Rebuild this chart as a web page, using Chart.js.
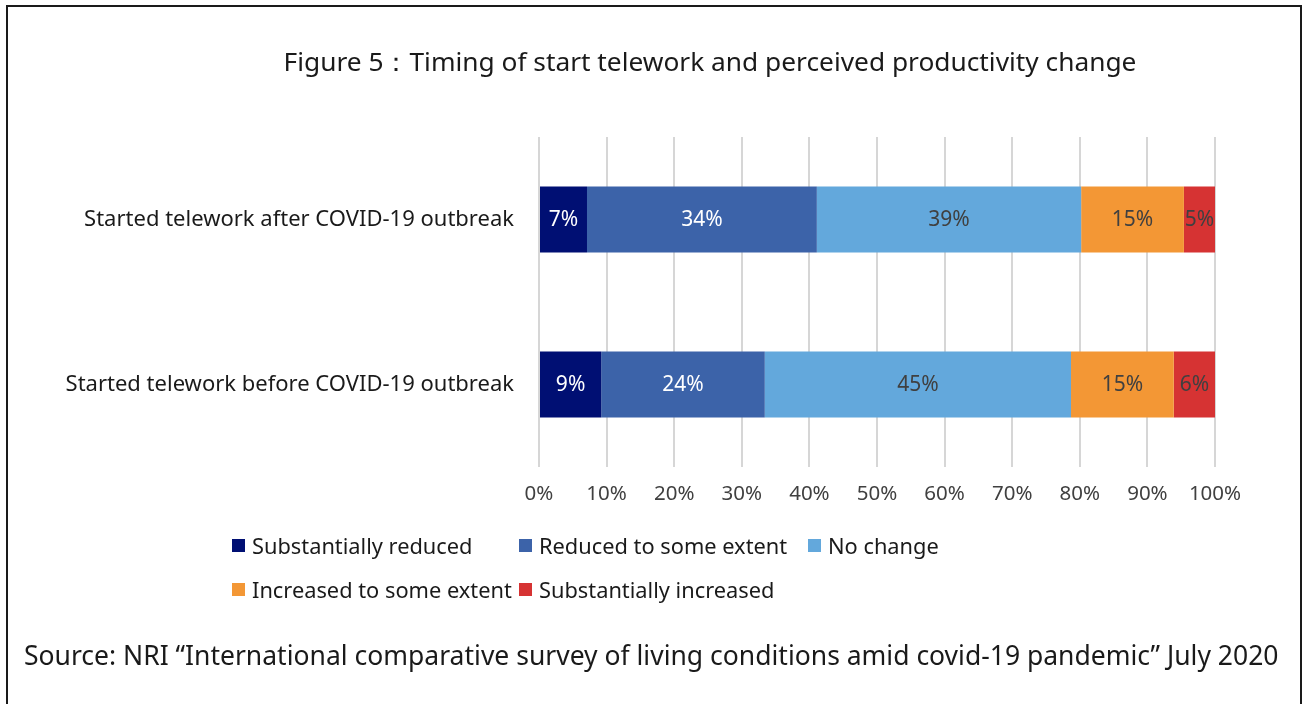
<!DOCTYPE html>
<html>
<head>
<meta charset="utf-8">
<script src="https://cdn.jsdelivr.net/npm/chart.js@4/dist/chart.umd.min.js"></script>
<style>
  html, body { margin: 0; padding: 0; background: #fff; }
  body { width: 1308px; height: 704px; position: relative; overflow: hidden; font-family: "Noto Sans", "Open Sans", sans-serif; }
  #frame { position: absolute; left: 6px; top: 5px; width: 1296px; height: 740px; border: 2px solid #1a1a1a; box-sizing: border-box; }
  #title { position: absolute; left: 0; width: 1420px; top: 43px; text-align: center; font-size: 26.3px; color: #1a1a1a; white-space: nowrap; }
  #wrap { position: absolute; left: 0; top: 0; width: 1308px; height: 704px; }
  #legend { position: absolute; left: 232px; top: 530px; display: grid; grid-template-columns: 287px 289px 200px; row-gap: 14px; font-size: 21.8px; color: #1a1a1a; }
  #legend .item { display: flex; align-items: center; white-space: nowrap; height: 30px; }
  #legend .sw { width: 13px; height: 13px; margin-right: 7px; flex: none; }
  #source { position: absolute; left: 24px; top: 637px; font-size: 26.5px; color: #1a1a1a; white-space: nowrap; }
</style>
</head>
<body>
<div id="wrap"><canvas id="c" width="1308" height="704"></canvas></div>
<div id="frame"></div>
<div id="title">Figure 5：Timing of start telework and perceived productivity change</div>
<div id="legend"></div>
<div id="source">Source: NRI “International comparative survey of living conditions amid covid-19 pandemic” July 2020</div>
<script>
const categories = ["Started telework after COVID-19 outbreak", "Started telework before COVID-19 outbreak"];
const seriesNames = ["Substantially reduced", "Reduced to some extent", "No change", "Increased to some extent", "Substantially increased"];
const substantiallyReduced = [7.1, 9.2];
const reducedSome = [34.0, 24.2];
const noChange = [39.1, 45.3];
const increasedSome = [15.2, 15.2];
const substantiallyIncreased = [4.6, 6.1];
const labelValues = [[7, 9], [34, 24], [39, 45], [15, 15], [5, 6]];
const xTicks = [0, 10, 20, 30, 40, 50, 60, 70, 80, 90, 100];

const colors = ["#000F73", "#3C63A9", "#63A8DC", "#F39735", "#D63333"];
const labelColors = ["#ffffff", "#ffffff", "#404040", "#404040", "#404040"];
const seriesData = [substantiallyReduced, reducedSome, noChange, increasedSome, substantiallyIncreased];
const FONT = '"Noto Sans", "Open Sans", sans-serif';

const datasets = seriesData.map((d, i) => ({
  label: seriesNames[i],
  data: d,
  backgroundColor: colors[i],
  borderWidth: 0,
  barPercentage: 0.4,
  categoryPercentage: 1.0
}));

const labelPlugin = {
  id: 'segLabels',
  afterDatasetsDraw(chart) {
    const ctx = chart.ctx;
    ctx.save();
    ctx.font = '21px ' + FONT;
    ctx.textAlign = 'center';
    ctx.textBaseline = 'middle';
    chart.data.datasets.forEach((ds, i) => {
      const meta = chart.getDatasetMeta(i);
      meta.data.forEach((el, j) => {
        const p = el.getCenterPoint();
        ctx.fillStyle = labelColors[i];
        ctx.fillText(labelValues[i][j] + '%', p.x, p.y + 1);
      });
    });
    ctx.restore();
  }
};

new Chart(document.getElementById('c'), {
  type: 'bar',
  data: { labels: categories, datasets },
  options: {
    indexAxis: 'y',
    responsive: false,
    animation: false,
    layout: { padding: { left: 0, right: 93, top: 137, bottom: 197 } },
    plugins: { legend: { display: false }, tooltip: { enabled: false }, title: { display: false } },
    scales: {
      x: {
        stacked: true,
        min: 0, max: 100,
        afterBuildTicks(scale) { scale.ticks = xTicks.map(v => ({ value: v })); },
        afterFit(scale) { scale.height = 40; },
        grid: { color: '#d6d6d6', lineWidth: 2, drawTicks: false },
        border: { display: false },
        ticks: { callback: v => v + '%', color: '#404040', font: { size: 20.5, family: FONT }, padding: 15, maxRotation: 0, autoSkip: false }
      },
      y: {
        stacked: true,
        afterFit(scale) { scale.width = 539; },
        grid: { display: false, drawTicks: false },
        border: { display: false },
        ticks: { color: '#1a1a1a', font: { size: 22, family: FONT }, padding: 25 }
      }
    }
  },
  plugins: [labelPlugin]
});

const legend = document.getElementById('legend');
seriesNames.forEach((n, i) => {
  const it = document.createElement('div');
  it.className = 'item';
  const sw = document.createElement('span');
  sw.className = 'sw';
  sw.style.background = colors[i];
  const t = document.createElement('span');
  t.textContent = n;
  it.appendChild(sw); it.appendChild(t);
  legend.appendChild(it);
});
</script>
</body>
</html>
